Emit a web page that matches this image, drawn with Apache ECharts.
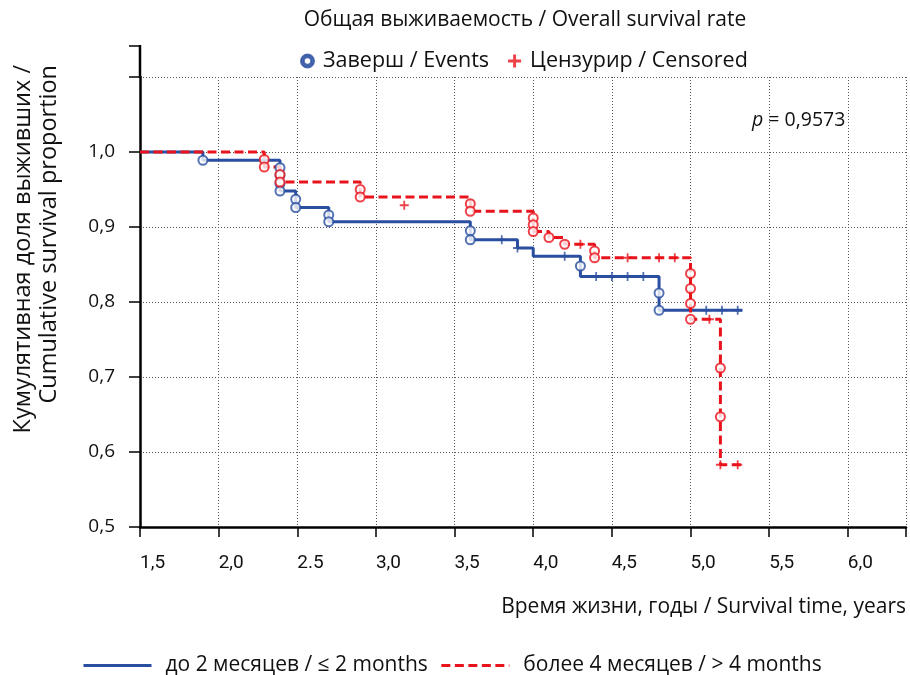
<!DOCTYPE html>
<html>
<head>
<meta charset="utf-8">
<script src="https://cdn.jsdelivr.net/npm/echarts@6/dist/echarts.min.js"></script>
<style>
  html, body { margin: 0; padding: 0; background: #fff; }
  #chart { width: 910px; height: 675px; }
</style>
</head>
<body>
<div id="chart"></div>
<script>
// ось X: подписи делений (в оригинале 2.5 с точкой)
const xTicks = [1.5, 2.0, 2.5, 3.0, 3.5, 4.0, 4.5, 5.0, 5.5, 6.0];
const xTickLabels = ['1,5', '2,0', '2.5', '3,0', '3,5', '4,0', '4,5', '5,0', '5,5', '6,0'];
const yTicks = [0.5, 0.6, 0.7, 0.8, 0.9, 1.0];
const yTickLabels = ['0,5', '0,6', '0,7', '0,8', '0,9', '1,0'];

// до 2 месяцев — ступени кривой
const blueT = [1.5, 1.90, 2.39, 2.49, 2.70, 3.60, 3.90, 4.00, 4.30, 4.80, 5.33];
const blueS = [1.0, 0.989, 0.948, 0.926, 0.907, 0.883, 0.872, 0.861, 0.834, 0.789, 0.789];
// завершённые
const blueEvT = [1.90, 2.39, 2.39, 2.39, 2.39, 2.49, 2.49, 2.70, 2.70, 3.60, 3.60, 4.30, 4.80, 4.80];
const blueEvS = [0.989, 0.979, 0.969, 0.958, 0.948, 0.937, 0.926, 0.916, 0.907, 0.895, 0.883, 0.848, 0.812, 0.789];
// цензурированные
const blueCenT = [3.80, 3.90, 4.20, 4.40, 4.50, 4.60, 4.70, 5.10, 5.20, 5.30];
const blueCenS = [0.883, 0.872, 0.861, 0.834, 0.834, 0.834, 0.834, 0.789, 0.789, 0.789];

// более 4 месяцев
const redT = [1.5, 2.29, 2.39, 2.90, 3.60, 4.00, 4.10, 4.20, 4.39, 5.00, 5.19, 5.32];
const redS = [1.0, 0.98, 0.96, 0.94, 0.921, 0.894, 0.886, 0.877, 0.859, 0.777, 0.583, 0.583];
const redEvT = [2.29, 2.29, 2.39, 2.39, 2.90, 2.90, 3.60, 3.60, 4.00, 4.00, 4.00, 4.10, 4.20, 4.39, 4.39, 5.00, 5.00, 5.00, 5.00, 5.19, 5.19];
const redEvS = [0.99, 0.98, 0.97, 0.96, 0.95, 0.94, 0.931, 0.921, 0.912, 0.903, 0.894, 0.886, 0.877, 0.868, 0.859, 0.838, 0.818, 0.798, 0.777, 0.712, 0.647];
const redCenT = [3.18, 4.30, 4.60, 4.80, 4.90, 5.12, 5.19, 5.30];
const redCenS = [0.929, 0.877, 0.859, 0.859, 0.859, 0.777, 0.583, 0.583];

const BLUE = '#2b4fa0';
const RED = '#e8131c';
const PLUS = 'path://M4,0H6V4H10V6H6V10H4V6H0V4H4Z';
const PLUS_BOLD = 'path://M5.8,0H9.2V5.8H15V9.2H9.2V15H5.8V9.2H0V5.8H5.8Z';
const RING = 'path://M6,0A6,6 0 1 1 6,12A6,6 0 1 1 6,0ZM6,2.6A3.4,3.4 0 1 0 6,9.4A3.4,3.4 0 1 0 6,2.6Z';
const FONT = '"Open Sans"';

function pairs(t, s) { return t.map((v, i) => [v, s[i]]); }
function lookup(v, ticks, labels) {
  for (let i = 0; i < ticks.length; i++) {
    if (Math.abs(v - ticks[i]) < 1e-6) return labels[i];
  }
  return '';
}

const chart = echarts.init(document.getElementById('chart'));
const option = {
  animation: false,
  grid: { left: 140, right: 4, top: 77, bottom: 148 },
  graphic: [
    { type: 'text', x: 525, y: 20, style: { text: 'Общая выживаемость / Overall survival rate', font: '21px ' + FONT, fill: '#111', align: 'center', verticalAlign: 'middle' } },
    { type: 'text', x: 752, y: 120, style: { text: '{i|p} = 0,9573', font: '19.5px ' + FONT, fill: '#111', verticalAlign: 'middle',
        rich: { i: { fontStyle: 'italic', fontFamily: 'Open Sans', fontSize: 19.5 } } } },
    { type: 'text', x: 23, y: 65, rotation: Math.PI / 2, style: { text: 'Кумулятивная доля выживших /', font: '23.5px ' + FONT, fill: '#111', align: 'right', verticalAlign: 'middle' } },
    { type: 'text', x: 49, y: 65, rotation: Math.PI / 2, style: { text: 'Cumulative survival proportion', font: '23.5px ' + FONT, fill: '#111', align: 'right', verticalAlign: 'middle' } },
    { type: 'text', x: 906, y: 607, style: { text: 'Время жизни, годы / Survival time, years', font: '21px ' + FONT, fill: '#111', align: 'right', verticalAlign: 'middle' } },
    // продолжение оси Y выше 1,1
    { type: 'line', shape: { x1: 140, y1: 45, x2: 140, y2: 78 }, style: { stroke: '#000', lineWidth: 2.5 } },
    { type: 'line', shape: { x1: 129, y1: 46, x2: 140, y2: 46 }, style: { stroke: '#000', lineWidth: 1.5 } }
  ],
  legend: [
    {
      left: 295, top: 45, itemGap: 19, itemWidth: 13, itemHeight: 13,
      textStyle: { fontFamily: 'Open Sans', fontSize: 21.5, color: '#111', padding: [0, 0, 0, 4] },
      data: [
        { name: 'Заверш / Events', icon: RING, itemStyle: { color: BLUE } },
        { name: 'Цензурир / Censored', icon: PLUS_BOLD, itemStyle: { color: RED } }
      ]
    },
    {
      left: 77, top: 650, itemGap: 12, itemWidth: 68, itemHeight: 14,
      itemStyle: { opacity: 0 },
      lineStyle: { width: 3 },
      textStyle: { fontFamily: 'Open Sans', fontSize: 21, color: '#111', padding: [0, 0, 0, 9] },
      data: ['до 2 месяцев / ≤ 2 months', 'более 4 месяцев / > 4 months']
    }
  ],
  xAxis: {
    type: 'value', min: 1.5, max: 6.37, interval: 0.5,
    axisLine: { lineStyle: { color: '#000', width: 2.5 } },
    axisTick: { length: 10, lineStyle: { color: '#000', width: 1.5 } },
    axisLabel: { margin: 27, align: 'left', fontFamily: 'Roboto', fontSize: 19, color: '#111',
      formatter: v => lookup(v, xTicks, xTickLabels) },
    splitLine: { show: true, lineStyle: { type: [1, 2], color: '#555', width: 1 } }
  },
  yAxis: {
    type: 'value', min: 0.5, max: 1.1, interval: 0.1,
    axisLine: { show: true, lineStyle: { color: '#000', width: 2.5 } },
    axisTick: { show: true, length: 11, lineStyle: { color: '#000', width: 1.5 } },
    axisLabel: { margin: 25, fontFamily: 'Open Sans', fontSize: 19, color: '#111',
      formatter: v => lookup(v, yTicks, yTickLabels) },
    splitLine: { show: true, lineStyle: { type: [1, 2], color: '#555', width: 1 } }
  },
  series: [
    {
      name: 'до 2 месяцев / ≤ 2 months', type: 'line', step: 'end', symbol: 'none',
      data: pairs(blueT, blueS), lineStyle: { color: BLUE, width: 3 }, itemStyle: { color: BLUE }, z: 3
    },
    {
      name: 'более 4 месяцев / > 4 months', type: 'line', step: 'end', symbol: 'none',
      data: pairs(redT, redS), lineStyle: { color: RED, width: 3, type: [9, 4.5] }, itemStyle: { color: RED }, z: 4
    },
    {
      name: 'Заверш / Events', type: 'scatter', symbol: 'emptyCircle', symbolSize: 9,
      data: pairs(blueEvT, blueEvS), itemStyle: { color: BLUE, borderColor: BLUE, borderWidth: 1.5 }, z: 5
    },
    {
      name: 'Заверш / Events', type: 'scatter', symbol: 'emptyCircle', symbolSize: 9,
      data: pairs(redEvT, redEvS), itemStyle: { color: RED, borderColor: RED, borderWidth: 1.5 }, z: 6
    },
    {
      name: 'Цензурир / Censored', type: 'scatter', symbol: PLUS, symbolSize: 9,
      data: pairs(redCenT, redCenS), itemStyle: { color: RED }, z: 6
    },
    {
      name: 'Цензурир / Censored', type: 'scatter', symbol: PLUS, symbolSize: 9,
      data: pairs(blueCenT, blueCenS), itemStyle: { color: BLUE }, z: 5
    }
  ]
};
chart.setOption(option);
</script>
</body>
</html>
